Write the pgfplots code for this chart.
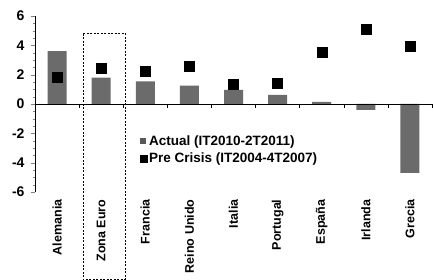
\documentclass[border=0pt]{standalone}
\usepackage{fontspec}
\setmainfont{Liberation Sans}
\usepackage{pgfplots}
\pgfplotsset{compat=1.18}
\begin{document}
\begin{tikzpicture}
\begin{axis}[
 scale only axis, width=397pt, height=176pt,
 xmin=-0.5, xmax=8.5, ymin=-6, ymax=6,
 axis x line*=bottom, axis y line*=left,
 x axis line style={draw=none},
 xtick={0,...,8},
 xticklabels={Alemania,Zona Euro,Francia,Reino Unido,Italia,Portugal,España,Irlanda,Grecia},
 xticklabel style={rotate=90, anchor=east, font=\fontsize{12.5}{14}\selectfont\bfseries},
 major x tick style={draw=none},
 ytick={-6,-4,...,6}, yticklabels={-6,-4,-2,0,2,4,6},
 yticklabel style={font=\fontsize{14}{16}\selectfont\bfseries, xshift=-3pt},
 minor y tick num=3, tick align=outside, major tick length=4pt, minor tick length=2pt,
 clip=false,
 legend style={draw=none, fill=none, at={(axis cs:1.87,-2.0)}, anchor=north west,
   font=\fontsize{13.5}{15}\selectfont\bfseries, row sep=2pt, inner sep=0pt},
 legend cell align=left,
]
\addplot[ybar, bar width=19pt, fill=black!58, draw=none,
  legend image code/.code={\fill[black!65] (0pt,-3pt) rectangle (6pt,3pt);}]
 coordinates {(0,3.6)(1,1.8)(2,1.55)(3,1.25)(4,0.97)(5,0.63)(6,0.15)(7,-0.4)(8,-4.7)};
\addlegendentry{Actual (IT2010-2T2011)}
\addplot[only marks, mark=square*, mark size=5pt, black,
  legend image code/.code={\fill[black] (0pt,-3.5pt) rectangle (7pt,3.5pt);}]
 coordinates {(0,1.8)(1,2.45)(2,2.25)(3,2.6)(4,1.35)(5,1.4)(6,3.55)(7,5.1)(8,3.95)};
\addlegendentry{Pre Crisis (IT2004-4T2007)}
\draw (axis cs:-0.5,0) -- (axis cs:8.5,0);
\pgfplotsinvokeforeach{0.5,1.5,2.5,3.5,4.5,5.5,6.5,7.5,8.5}{\draw (axis cs:#1,0) -- ++(0pt,-4pt);}
\draw[line width=0.9pt, dash pattern=on 2pt off 1.5pt] (axis cs:0.59,4.8) rectangle (axis cs:1.55,-11.95);
\path (rel axis cs:0,1) ++(-35pt,16pt);
\path (rel axis cs:1,0) ++(2pt,0pt);
\end{axis}
\end{tikzpicture}
\end{document}
